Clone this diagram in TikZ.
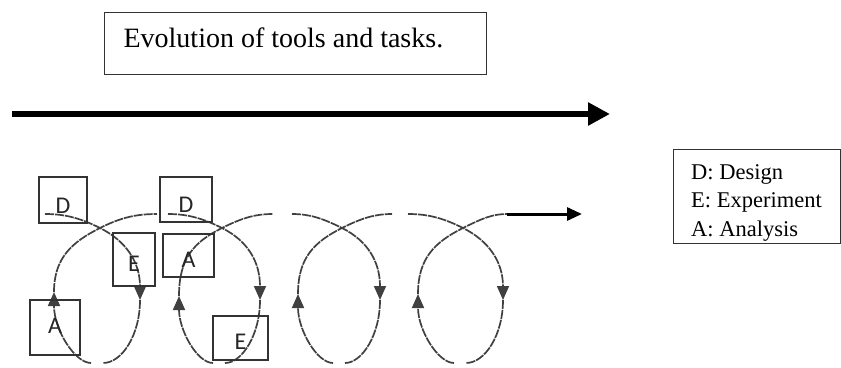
\documentclass[tikz,border=0pt]{standalone}
\usepackage{fontspec}
\setmainfont{Liberation Serif}
\newfontfamily\taskfont{Carlito}
\usetikzlibrary{arrows.meta}
\tikzset{
  frame/.style={draw=black!80, line width=1.2pt},
  task/.style={draw=black!80, line width=1.4pt, inner sep=0pt, text=black!85,
    font=\taskfont\fontsize{24}{24}\selectfont, text height=23pt},
  key/.style={anchor=base west, inner sep=0pt, font=\fontsize{22.5}{27}\selectfont},
  loopline/.style={draw=black!75, line width=1.7pt, dash pattern=on 9pt off 1pt},
  looptip/.style={-{Triangle[width=12pt,length=14pt]}}
}
\begin{document}
\begin{tikzpicture}[x=1pt,y=-1pt]
      \useasboundingbox (0,0) rectangle (841,367);
      \node[frame, anchor=north west, inner xsep=19pt, inner ysep=0pt, text height=35pt,
        text depth=27pt, font=\fontsize{28}{34}\selectfont] (title) at (104,12)
        {\makebox[344pt][l]{Evolution of tools and tasks.}};
      \coordinate (timeL) at (12,114);
      \coordinate (timeR) at (610,114);
      \draw[line width=6.5pt, -{Triangle[width=22pt,length=22pt]}] (timeL) -- (timeR);
      \begin{scope}[shift={(100,0)}]
        \draw[loopline, looptip] (-55,214) .. controls (-35,214) and (-20,218) .. (0,228)
          .. controls (26,241) and (40,262) .. (40,300);
        \draw[loopline, shorten >=6pt] (40,300) .. controls (40,335) and (22,363) .. (-3,363);
        \draw[loopline, looptip, shorten <=6pt] (-3,363) .. controls (-25,363) and (-46,330) .. (-46,292);
        \draw[loopline] (-46,292) .. controls (-46,258) and (-28,242) .. (0,228)
          .. controls (20,218) and (35,214) .. (57,214);
      \end{scope}
      \begin{scope}[shift={(222,0)}]
        \draw[loopline, looptip] (-54,214) .. controls (-35,214) and (-20,218) .. (0,228)
          .. controls (26,241) and (38,262) .. (38,300);
        \draw[loopline, shorten >=6pt] (38,300) .. controls (38,335) and (20,363) .. (-3,363);
        \draw[loopline, looptip, shorten <=6pt] (-3,363) .. controls (-25,363) and (-43,330) .. (-43,296);
        \draw[loopline] (-43,296) .. controls (-43,258) and (-28,242) .. (0,228)
          .. controls (20,218) and (33,214) .. (51,214);
      \end{scope}
      \begin{scope}[shift={(342,0)}]
        \draw[loopline, looptip] (-50,214) .. controls (-33,214) and (-20,218) .. (0,228)
          .. controls (26,241) and (38,262) .. (38,300);
        \draw[loopline, shorten >=6pt] (38,300) .. controls (38,335) and (20,363) .. (-3,363);
        \draw[loopline, looptip, shorten <=6pt] (-3,363) .. controls (-25,363) and (-44,330) .. (-44,294);
        \draw[loopline] (-44,294) .. controls (-44,258) and (-28,242) .. (0,228)
          .. controls (20,218) and (33,214) .. (50,214);
      \end{scope}
      \begin{scope}[shift={(463,0)}]
        \draw[loopline, looptip] (-55,214) .. controls (-35,214) and (-20,218) .. (0,228)
          .. controls (26,241) and (40,262) .. (40,300);
        \draw[loopline, shorten >=6pt] (40,300) .. controls (40,335) and (22,363) .. (-3,363);
        \draw[loopline, looptip, shorten <=6pt] (-3,363) .. controls (-25,363) and (-45,330) .. (-45,294);
        \draw[loopline] (-45,294) .. controls (-45,258) and (-28,242) .. (0,228)
          .. controls (20,218) and (30,214) .. (44,214);
      \end{scope}
      \coordinate (goL) at (507,214);
      \coordinate (goR) at (582,214);
      \draw[line width=3pt, -{Triangle[width=13pt,length=15pt]}] (goL) -- (goR);
      \node[task, minimum width=48pt, minimum height=46pt, text height=26pt] (d1) at (63,200) {D};
      \node[task, minimum width=42pt, minimum height=53pt] (e1) at (134,259.5) {E};
      \node[task, minimum width=50pt, minimum height=55pt, text height=11pt] (a1) at (55,327.5) {A};
      \node[task, minimum width=52pt, minimum height=45pt, text height=26pt] (d2) at (186,199.5) {D};
      \node[task, minimum width=51pt, minimum height=43pt] (a2) at (188.5,255.5) {A};
      \node[task, minimum width=55pt, minimum height=44pt] (e2) at (240.5,338) {E};
      \node[frame, anchor=north west, minimum width=167pt, minimum height=94pt] (legend) at (673,149) {};
      \draw
        (691,179) node[key] (keyD) {D: Design}
        (691,207.5) node[key] (keyE) {E: Experiment}
        (691,236) node[key] (keyA) {A: Analysis};
    \end{tikzpicture}
\end{document}
